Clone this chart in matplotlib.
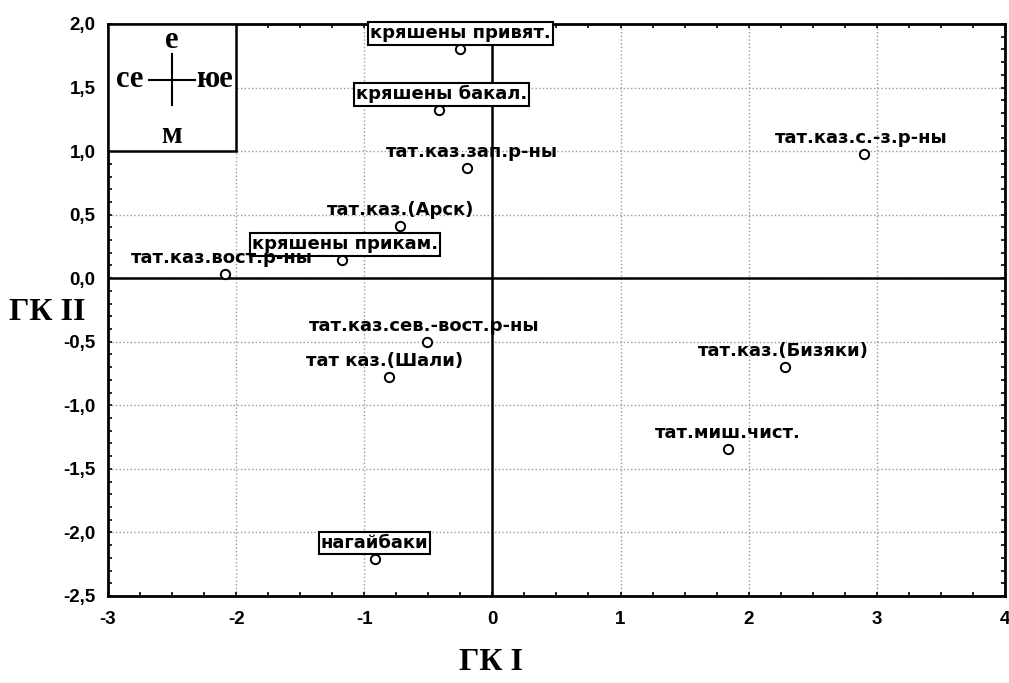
import numpy as np
import matplotlib.pyplot as plt
from matplotlib.patches import Rectangle
from matplotlib.ticker import MultipleLocator, FuncFormatter

# Data: group names and coordinates on the first two principal components
names = ['кряшены привят.', 'кряшены бакал.', 'тат.каз.зап.р-ны', 'тат.каз.(Арск)',
         'кряшены прикам.', 'тат.каз.вост.р-ны', 'тат.каз.с.-з.р-ны',
         'тат.каз.сев.-вост.р-ны', 'тат каз.(Шали)', 'тат.каз.(Бизяки)',
         'тат.миш.чист.', 'нагайбаки']
gk1 = [-0.25, -0.42, -0.20, -0.72, -1.17, -2.09, 2.90, -0.51, -0.81, 2.28, 1.84, -0.92]
gk2 = [1.80, 1.32, 0.87, 0.41, 0.14, 0.03, 0.98, -0.50, -0.78, -0.70, -1.34, -2.21]
boxed = ['кряшены привят.', 'кряшены бакал.', 'кряшены прикам.', 'нагайбаки']
label_dx = [0, 2, 4, 0, 2, -2, -2, -2, -3, -1, 0, 0]

x_ticks = [-3, -2, -1, 0, 1, 2, 3, 4]
y_ticks = [-2.5, -2.0, -1.5, -1.0, -0.5, 0.0, 0.5, 1.0, 1.5, 2.0]

fig = plt.figure(figsize=(10.09, 6.83), dpi=100)
ax = fig.add_axes([0.107, 0.1274, 0.889, 0.8375])

ax.set_xlim(-3, 4)
ax.set_ylim(-2.5, 2.0)

ax.grid(True, which='major', linestyle=':', color='#999999', linewidth=1.0)
ax.axhline(0, color='black', linewidth=1.8, zorder=2)
ax.axvline(0, color='black', linewidth=1.8, zorder=2)

ax.scatter(gk1, gk2, s=45, facecolors='white', edgecolors='black', linewidths=1.4, zorder=4)

for n, x, y, dx in zip(names, gk1, gk2, label_dx):
    kw = {}
    if n in boxed:
        kw['bbox'] = dict(boxstyle='square,pad=0.12', facecolor='white', edgecolor='black', linewidth=1.5)
    ax.annotate(n, (x, y), xytext=(dx, 5), textcoords='offset points',
                ha='center', va='bottom', fontsize=13, fontweight='bold',
                family='DejaVu Sans', zorder=5, annotation_clip=False, **kw)

# compass inset in the upper-left corner
ax.add_patch(Rectangle((-3, 1.0), 1.0, 1.0, facecolor='white', edgecolor='black', linewidth=1.8, zorder=3))
cx, cy = -2.5, 1.56
ax.plot([cx - 0.18, cx + 0.18], [cy, cy], color='black', linewidth=1.5, zorder=4)
ax.plot([cx, cx], [cy - 0.2, cy + 0.2], color='black', linewidth=1.5, zorder=4)
cfont = dict(family='Liberation Serif', fontweight='bold', fontsize=22, ha='center', va='center', zorder=4)
ax.text(cx, 1.87, 'е', **cfont)
ax.text(cx, 1.12, 'м', **cfont)
ax.text(-2.83, 1.56, 'се', **cfont)
ax.text(-2.17, 1.56, 'юе', **cfont)

ax.set_xticks(x_ticks)
ax.set_yticks(y_ticks)
ax.xaxis.set_minor_locator(MultipleLocator(0.25))
ax.yaxis.set_minor_locator(MultipleLocator(0.1))
ax.yaxis.set_major_formatter(FuncFormatter(lambda v, p: f'{v:.1f}'.replace('.', ',')))
ax.xaxis.set_major_formatter(FuncFormatter(lambda v, p: f'{v:.0f}'))
ax.tick_params(which='both', direction='in', top=True, right=True, length=3, width=1.2)
ax.tick_params(axis='y', which='major', labelsize=13.5, pad=9)
ax.tick_params(axis='x', which='major', labelsize=13.5, pad=11)
for lab in ax.get_xticklabels() + ax.get_yticklabels():
    lab.set_fontweight('bold')
    lab.set_family('Liberation Sans')

for s in ax.spines.values():
    s.set_linewidth(2)

fig.text(0.487, 0.03, 'ГК I', family='Liberation Serif', fontweight='bold', fontsize=23, ha='center', va='center')
fig.text(0.047, 0.543, 'ГК II', family='Liberation Serif', fontweight='bold', fontsize=23, ha='center', va='center')

plt.savefig('out.png', dpi=100)
